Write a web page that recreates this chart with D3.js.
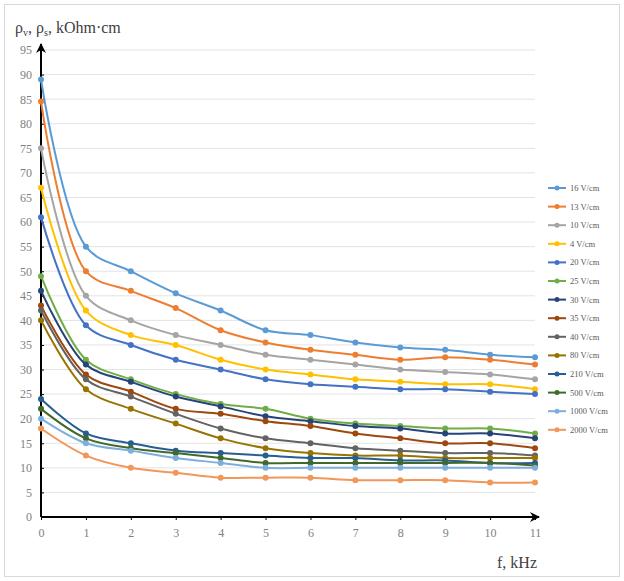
<!DOCTYPE html>
<html>
<head>
<meta charset="utf-8">
<script src="https://cdn.jsdelivr.net/npm/d3@7"></script>
<style>
  body { margin: 0; background: #fff; }
  svg { font-family: "Liberation Serif", "DejaVu Serif", serif; }
</style>
</head>
<body>
<div id="container"></div>
<script>
// frequency, kHz
var freqs = [0, 1, 2, 3, 4, 5, 6, 7, 8, 9, 10, 11];

var seriesNames = ['16 V/cm', '13 V/cm', '10 V/cm', '4 V/cm', '20 V/cm', '25 V/cm', '30 V/cm',
  '35 V/cm', '40 V/cm', '80 V/cm', '210 V/cm', '500 V/cm', '1000 V/cm', '2000 V/cm'];

var seriesColors = ['#5b9bd5', '#ed7d31', '#a5a5a5', '#ffc000', '#4472c4', '#70ad47', '#264478',
  '#9e480e', '#636363', '#997300', '#255e91', '#43682b', '#7cafdd', '#f1975a'];

var s1 = [89, 55, 50, 45.5, 42, 38, 37, 35.5, 34.5, 34, 33, 32.5];
var s2 = [84.5, 50, 46, 42.5, 38, 35.5, 34, 33, 32, 32.5, 32, 31];
var s3 = [75, 45, 40, 37, 35, 33, 32, 31, 30, 29.5, 29, 28];
var s4 = [67, 42, 37, 35, 32, 30, 29, 28, 27.5, 27, 27, 26];
var s5 = [61, 39, 35, 32, 30, 28, 27, 26.5, 26, 26, 25.5, 25];
var s6 = [49, 32, 28, 25, 23, 22, 20, 19, 18.5, 18, 18, 17];
var s7 = [46, 31, 27.5, 24.5, 22.5, 20.5, 19.5, 18.5, 18, 17, 17, 16];
var s8 = [43, 29, 25.5, 22, 21, 19.5, 18.5, 17, 16, 15, 15, 14];
var s9 = [42, 28, 24.5, 21, 18, 16, 15, 14, 13.5, 13, 13, 12.5];
var s10 = [40, 26, 22, 19, 16, 14, 13, 12.5, 12.5, 12, 12, 12];
var s11 = [24, 17, 15, 13.5, 13, 12.5, 12, 12, 11.5, 11.5, 11, 11];
var s12 = [22, 16, 14, 13, 12, 11, 11, 11, 11, 11, 11, 10.5];
var s13 = [20, 15, 13.5, 12, 11, 10, 10, 10, 10, 10, 10, 10];
var s14 = [18, 12.5, 10, 9, 8, 8, 8, 7.5, 7.5, 7.5, 7, 7];

var seriesValues = [s1, s2, s3, s4, s5, s6, s7, s8, s9, s10, s11, s12, s13, s14];

var yTicks = d3.range(0, 100, 5);

var width = 624, height = 581;
var margin = { left: 41, right: 89, top: 50, bottom: 64 };

var svg = d3.select('#container')
  .append('svg')
  .attr('width', width)
  .attr('height', height);

// chart frame
svg.append('rect')
  .attr('x', 4.5).attr('y', 4.5)
  .attr('width', width - 9).attr('height', height - 9)
  .attr('fill', 'none')
  .attr('stroke', '#d9d9d9');

var x = d3.scaleLinear()
  .domain([0, 11])
  .range([margin.left, width - margin.right]);

var y = d3.scaleLinear()
  .domain([0, 95])
  .range([height - margin.bottom, margin.top]);

// grid
svg.append('g')
  .selectAll('line')
  .data(yTicks.filter(d => d > 0))
  .join('line')
  .attr('x1', x(0)).attr('x2', x(11))
  .attr('y1', d => y(d)).attr('y2', d => y(d))
  .attr('stroke', '#e3e3e3')
  .attr('stroke-width', 1);

// axes
var yAxis = svg.append('g')
  .attr('transform', `translate(${x(0)},0)`)
  .call(d3.axisLeft(y).tickValues(yTicks).tickSize(3).tickPadding(6));
yAxis.select('.domain').remove();
yAxis.selectAll('.tick line').attr('stroke', '#000').attr('x2', 3);
yAxis.selectAll('text').attr('fill', '#7f7f7f').style('font-size', '12px')
  .style('font-family', '"Liberation Serif", serif');

var xAxis = svg.append('g')
  .attr('transform', `translate(0,${y(0)})`)
  .call(d3.axisBottom(x).tickValues(freqs).tickFormat(d3.format('d')).tickSize(3).tickPadding(8));
xAxis.select('.domain').remove();
xAxis.selectAll('.tick line').attr('stroke', '#000');
xAxis.selectAll('text').attr('fill', '#7f7f7f').style('font-size', '12px')
  .style('font-family', '"Liberation Serif", serif');

svg.append('defs').append('marker')
  .attr('id', 'arrow')
  .attr('viewBox', '0 0 10 10')
  .attr('refX', 9).attr('refY', 5)
  .attr('markerWidth', 5).attr('markerHeight', 5)
  .attr('orient', 'auto')
  .append('path')
  .attr('d', 'M0,0 L10,5 L0,10 L3,5 z')
  .attr('fill', '#000');

svg.append('line')
  .attr('x1', x(0)).attr('x2', x(0))
  .attr('y1', y(0)).attr('y2', y(95) - 6)
  .attr('stroke', '#000').attr('stroke-width', 2)
  .attr('marker-end', 'url(#arrow)');

svg.append('line')
  .attr('x1', x(0)).attr('x2', x(11) + 4)
  .attr('y1', y(0)).attr('y2', y(0))
  .attr('stroke', '#000').attr('stroke-width', 2)
  .attr('marker-end', 'url(#arrow)');

// series
var line = d3.line()
  .x((d, i) => x(freqs[i]))
  .y(d => y(d))
  .curve(d3.curveCatmullRom.alpha(0.5));

var plot = svg.append('g');
seriesValues.forEach(function (vals, k) {
  var g = plot.append('g');
  g.append('path')
    .attr('d', line(vals))
    .attr('fill', 'none')
    .attr('stroke', seriesColors[k])
    .attr('stroke-width', 2);
  g.selectAll('circle')
    .data(vals)
    .join('circle')
    .attr('cx', (d, i) => x(freqs[i]))
    .attr('cy', d => y(d))
    .attr('r', 3)
    .attr('fill', seriesColors[k]);
});

// legend
var legend = svg.append('g')
  .attr('transform', 'translate(548,188)');
var rows = legend.selectAll('g')
  .data(seriesNames)
  .join('g')
  .attr('transform', (d, i) => `translate(0,${i * 18.6})`);
rows.append('line')
  .attr('x1', 0).attr('x2', 18)
  .attr('stroke', (d, i) => seriesColors[i])
  .attr('stroke-width', 2);
rows.append('circle')
  .attr('cx', 9).attr('r', 2.5)
  .attr('fill', (d, i) => seriesColors[i]);
rows.append('text')
  .attr('x', 22).attr('dy', '0.35em')
  .style('font-size', '8.5px')
  .attr('fill', '#595959')
  .text(d => d);

// axis titles
var title = svg.append('text')
  .attr('x', 15).attr('y', 33)
  .style('font-size', '16px')
  .attr('fill', '#404040');
title.append('tspan').text('ρ');
title.append('tspan').attr('dy', 3).style('font-size', '10px').text('v');
title.append('tspan').attr('dy', -3).text(', ρ');
title.append('tspan').attr('dy', 3).style('font-size', '10px').text('s');
title.append('tspan').attr('dy', -3).text(', kOhm·cm');

svg.append('text')
  .attr('x', 497).attr('y', 568)
  .style('font-size', '16px')
  .attr('fill', '#404040')
  .text('f, kHz');
</script>
</body>
</html>
